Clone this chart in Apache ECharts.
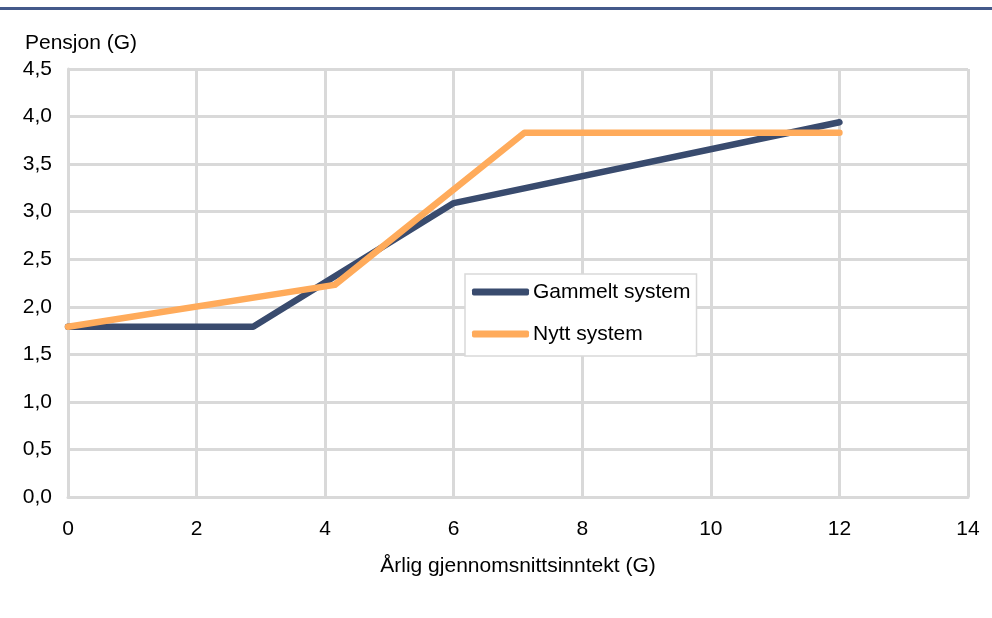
<!DOCTYPE html>
<html>
<head>
<meta charset="utf-8">
<script src="https://cdn.jsdelivr.net/npm/echarts@6/dist/echarts.min.js"></script>
<style>
html,body{margin:0;padding:0;background:#fff;}
#c{width:992px;height:618px;}
</style>
</head>
<body>
<div id="c"></div>
<script>
const xTicks = [0, 2, 4, 6, 8, 10, 12, 14];
const yTickStep = 0.5;
const seriesNames = ['Gammelt system', 'Nytt system'];
const gammeltX = [0, 2.88, 6, 12];
const gammeltY = [1.79, 1.79, 3.09, 3.94];
const nyttX = [0, 4.15, 7.1, 12];
const nyttY = [1.79, 2.23, 3.83, 3.83];
const xName = 'Årlig gjennomsnittsinntekt (G)';
const yName = 'Pensjon (G)';

const FONT = '"Liberation Sans", Arial, sans-serif';
const chart = echarts.init(document.getElementById('c'));
const pair = (xs, ys) => xs.map((x, i) => [x, ys[i]]);
const gridColor = '#d9d9d9';

chart.setOption({
  animation: false,
  backgroundColor: '#fff',
  textStyle: { fontFamily: FONT },
  grid: { left: 68, right: 24, top: 69, bottom: 121, containLabel: false },
  graphic: [
    { type: 'rect', left: 0, top: 7, shape: { width: 992, height: 3 }, style: { fill: '#44598a' } },
    { type: 'text', left: 25, top: 33, style: { text: yName, font: '21px ' + FONT, fill: '#000' } }
  ],
  legend: {
    orient: 'vertical',
    left: 465, top: 274,
    padding: [6, 6, 10, 7],
    itemGap: 18,
    itemWidth: 57, itemHeight: 7,
    icon: 'roundRect',
    backgroundColor: '#fff',
    borderColor: gridColor, borderWidth: 1.5,
    textStyle: { fontSize: 21, fontFamily: FONT, color: '#000', lineHeight: 24, padding: [0, 0, 0, -1] },
    data: seriesNames
  },
  xAxis: {
    type: 'value', min: xTicks[0], max: xTicks[xTicks.length - 1], interval: xTicks[1] - xTicks[0],
    name: xName, nameLocation: 'middle', nameGap: 59,
    nameTextStyle: { fontSize: 21, color: '#000', fontFamily: FONT },
    axisLine: { show: true, lineStyle: { color: gridColor, width: 3 } },
    axisTick: { show: false },
    axisLabel: { fontSize: 21, color: '#000', margin: 22, fontFamily: FONT },
    splitLine: { show: true, lineStyle: { color: gridColor, width: 3 } }
  },
  yAxis: {
    type: 'value', min: 0, max: 4.5, interval: yTickStep,
    axisLine: { show: true, lineStyle: { color: gridColor, width: 3 } },
    axisTick: { show: false },
    axisLabel: { fontSize: 21, color: '#000', margin: 16, fontFamily: FONT, padding: [8, 0, 0, 0],
      formatter: v => v.toFixed(1).replace('.', ',') },
    splitLine: { show: true, lineStyle: { color: gridColor, width: 3 } }
  },
  series: [
    { name: seriesNames[0], type: 'line', data: pair(gammeltX, gammeltY), symbol: 'none',
      itemStyle: { color: '#394b6e' },
      lineStyle: { color: '#394b6e', width: 6.5, cap: 'round', join: 'round' }, z: 3 },
    { name: seriesNames[1], type: 'line', data: pair(nyttX, nyttY), symbol: 'none',
      itemStyle: { color: '#ffab5b' },
      lineStyle: { color: '#ffab5b', width: 6.5, cap: 'round', join: 'round' }, z: 4 }
  ]
});
</script>
</body>
</html>
